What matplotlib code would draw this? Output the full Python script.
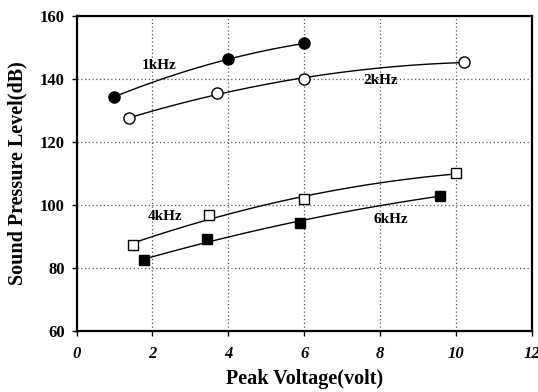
import numpy as np
import matplotlib
matplotlib.use("Agg")
import matplotlib.pyplot as plt

plt.rcParams['font.family'] = ['Liberation Serif', 'DejaVu Serif']

x_1k = [1.0, 4.0, 6.0]
y_1k = [134.3, 146.2, 151.2]
x_2k = [1.37, 3.7, 6.0, 10.2]
y_2k = [127.4, 135.4, 140.0, 145.2]
x_4k = [1.5, 3.5, 6.0, 10.0]
y_4k = [87.4, 96.7, 101.8, 110.0]
x_6k = [1.79, 3.45, 5.89, 9.58]
y_6k = [82.4, 89.1, 94.3, 102.9]

labels = ["1kHz", "2kHz", "4kHz", "6kHz"]
label_pos = [(2.18, 144.1), (8.02, 139.6), (2.32, 96.4), (8.29, 95.5)]

xticks = [0, 2, 4, 6, 8, 10, 12]
yticks = [60, 80, 100, 120, 140, 160]

fig = plt.figure(figsize=(5.38, 3.92), dpi=100)
ax = fig.add_axes([0.1422, 0.1556, 0.8468, 0.8044])

series = [
    (x_1k, y_1k, 'o', 'black'),
    (x_2k, y_2k, 'o', 'white'),
    (x_4k, y_4k, 's', 'white'),
    (x_6k, y_6k, 's', 'black'),
]
for xs, ys, m, fc in series:
    coef = np.polyfit(xs, ys, 2)
    xx = np.linspace(min(xs), max(xs), 100)
    ax.plot(xx, np.polyval(coef, xx), color='black', lw=1.0, zorder=2)
    ax.plot(xs, ys, linestyle='none', marker=m, markersize=8 if m == 'o' else 7.5,
            markerfacecolor=fc, markeredgecolor='black', markeredgewidth=1.0, zorder=3)

for t, (tx, ty) in zip(labels, label_pos):
    ax.text(tx, ty, t, fontsize=11, fontweight='bold', ha='center', va='center', zorder=4)

ax.set_xlim(0, 12)
ax.set_ylim(60, 160)
ax.set_xticks(xticks)
ax.set_yticks(yticks)
ax.set_xticklabels([str(v) for v in xticks], fontsize=12, fontweight='bold', fontstyle='italic')
ax.set_yticklabels([str(v) for v in yticks], fontsize=12, fontweight='bold')
ax.tick_params(direction='out', length=3.5, width=1)
ax.tick_params(axis='x', pad=7)
ax.tick_params(axis='y', pad=5)
ax.grid(True, linestyle=(0, (1, 2)), color='#555555', lw=0.9)
ax.set_axisbelow(True)
for s in ax.spines.values():
    s.set_linewidth(1.6)

ax.set_xlabel("Peak Voltage(volt)", fontsize=14.5, fontweight='bold', labelpad=5)
ax.set_ylabel("Sound Pressure Level(dB)", fontsize=14.5, fontweight='bold', labelpad=9)

fig.savefig("out.png", dpi=100)
